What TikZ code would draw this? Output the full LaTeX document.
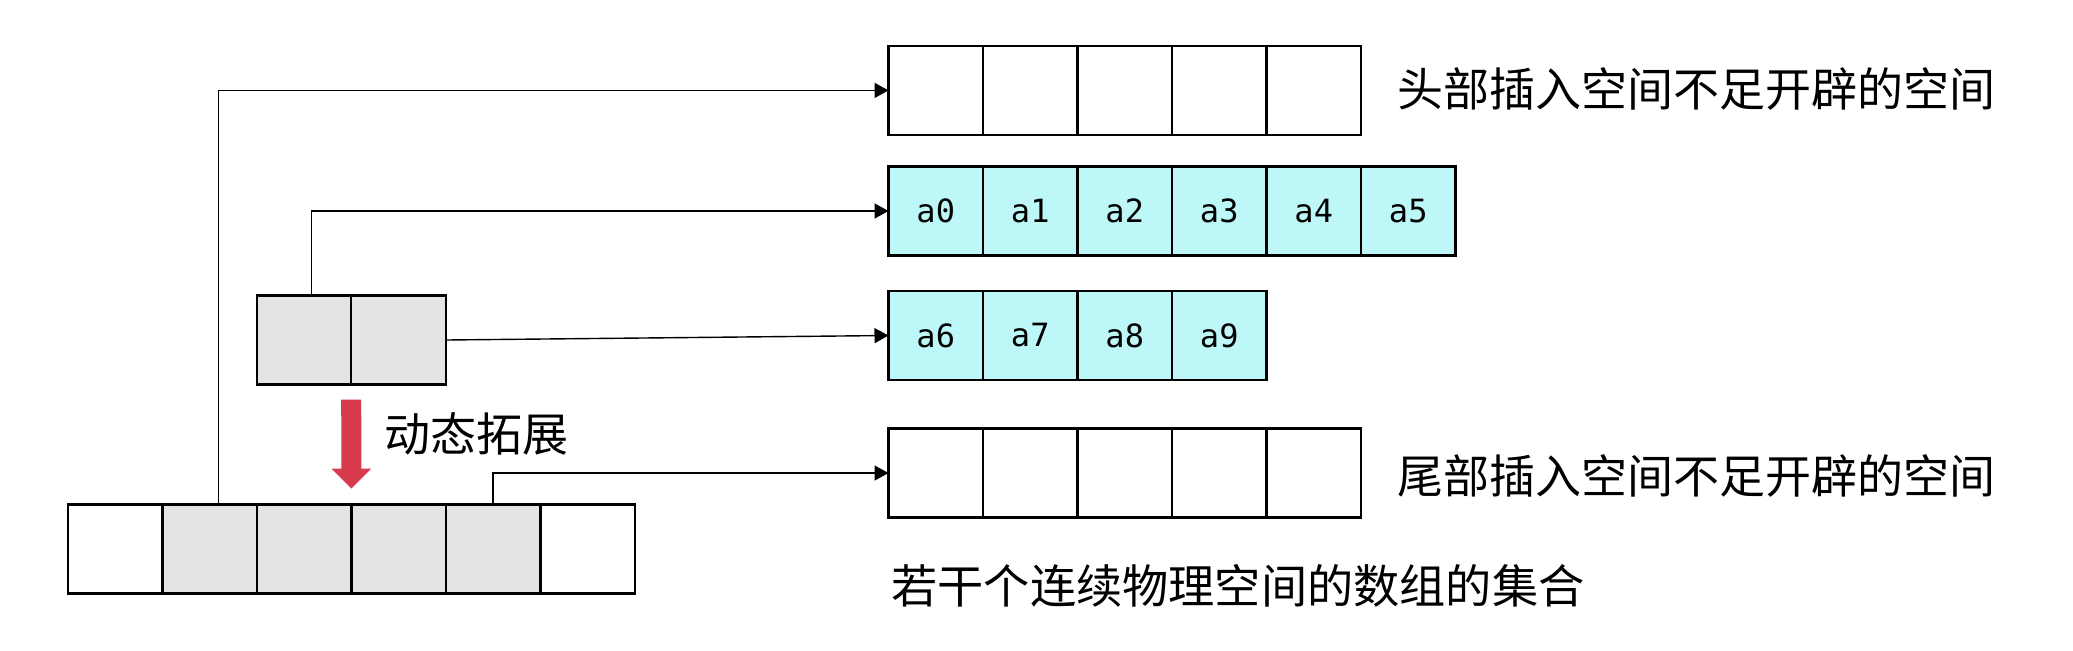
\documentclass[tikz,border=0pt]{standalone}
\usepackage{fontspec}
\newfontfamily\cjk{Noto Sans CJK SC}
\newfontfamily\monof{DejaVu Sans Mono}
\usetikzlibrary{arrows.meta,calc}
\definecolor{cyanfill}{HTML}{BDF7F7}
\definecolor{grayfill}{HTML}{E4E4E4}
\definecolor{redarrow}{HTML}{D63A4B}
\begin{document}
\begin{tikzpicture}[x=0.5pt,y=-0.5pt,
  cell/.style={draw=black,line width=1.1pt,minimum width=47.25pt,minimum height=44.5pt,inner sep=0pt,outer sep=0pt,font=\monof\fontsize{16}{16}\selectfont},
  cyancell/.style={cell,fill=cyanfill},
  graycell/.style={cell,fill=grayfill},
  wire/.style={draw=black,line width=0.7pt,-{Triangle[length=7pt,width=7.5pt]}},
  lbl/.style={font=\cjk\fontsize{23}{27}\selectfont,inner sep=0pt,anchor=west},
  caplbl/.style={font=\cjk\fontsize{23.1}{27}\selectfont,inner sep=0pt,anchor=west}
]
\useasboundingbox[fill=white] (0,0) rectangle (2073,650);

% head array (empty)
\foreach \i in {0,...,4} \node[cell] (T\i) at ({935.75+94.5*\i},90.4) {};
% a0..a5
\foreach \i in {0,...,5} \node[cyancell] (A\i) at ({935.75+94.5*\i},211) {a\i};
% a6..a9
\foreach \i/\t in {0/6,1/7,2/8,3/9} \node[cyancell] (B\i) at ({935.75+94.5*\i},335.5) {a\t};
% tail array (empty)
\foreach \i in {0,...,4} \node[cell] (L\i) at ({935.75+94.5*\i},473) {};
% small map (2 cells)
\foreach \i in {0,1} \node[graycell] (G\i) at ({303.95+94.5*\i},340) {};
% expanded map (6 cells)
\node[cell] (M0) at (115.15,549) {};
\foreach \i in {1,...,4} \node[graycell] (M\i) at ({115.15+94.5*\i},549) {};
\node[cell] (M5) at ({115.15+94.5*5},549) {};

% connectors
\draw[wire] ($(M1.north)+(9,0)$) |- (T0.west);
\draw[wire] ($(G0.north)+(7.6,0)$) |- (A0.west);
\draw[wire] (G1.east) -- (B0.west);
\draw[wire] (M4.north) |- (L0.west);

% red expansion arrow
\coordinate (rtop) at ($(G0.south east)+(0,15)$);
\coordinate (rtip) at ($(M3.north west)+(0,-16)$);
\fill[redarrow] ($(rtop)+(-10,0)$) -- ($(rtop)+(10,0)$) -- ($(rtip)+(10,-20)$) -- ($(rtip)+(20,-20)$) -- (rtip) -- ($(rtip)+(-20,-20)$) -- ($(rtip)+(-10,-20)$) -- cycle;

% labels
\node[lbl] (hl) at ($(T4.east)+(36,-1)$) {头部插入空间不足开辟的空间};
\node[lbl] (tl) at ($(L4.east)+(36,3)$) {尾部插入空间不足开辟的空间};
\node[lbl] (dl) at (384,434) {动态拓展};
\node[caplbl] (cap) at (891,586) {若干个连续物理空间的数组的集合};
\end{tikzpicture}
\end{document}
